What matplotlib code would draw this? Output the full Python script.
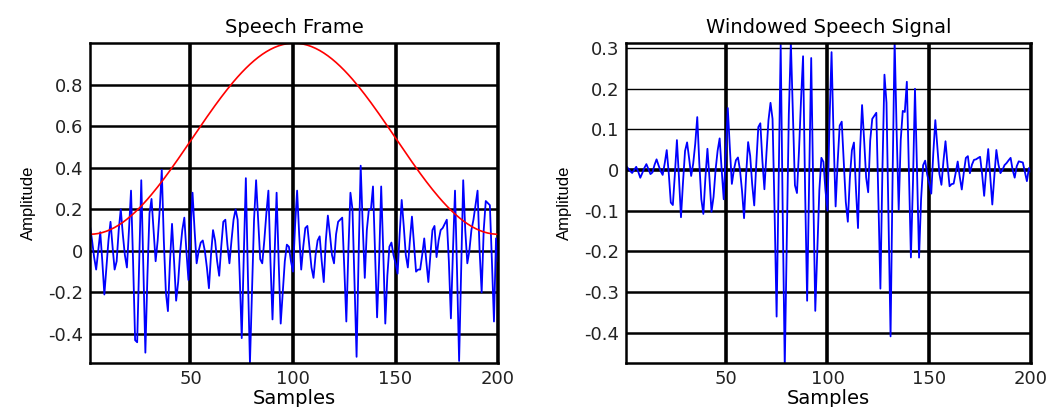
import numpy as np
import matplotlib
matplotlib.use('Agg')
import matplotlib.pyplot as plt

plt.rcParams['font.family'] = ['DejaVu Sans']

# speech frame samples (n = 1..200)
frame = [
    0.12, 0.05, -0.03, -0.09, 0.00, 0.09, -0.05, -0.21, -0.08, 0.05,
    0.14, 0.02, -0.09, -0.05, 0.10, 0.20, 0.08, -0.02, -0.08, 0.10,
    0.29, -0.05, -0.43, -0.44, -0.05, 0.34, -0.08, -0.49, -0.12, 0.18,
    0.25, 0.10, -0.05, 0.05, 0.20, 0.39, 0.05, -0.20, -0.29, -0.05,
    0.13, -0.05, -0.24, -0.15, 0.00, 0.10, 0.16, 0.00, -0.14, 0.08,
    0.28, 0.10, -0.06, 0.00, 0.04, 0.05, 0.00, -0.08, -0.18, -0.02,
    0.10, 0.05, -0.05, -0.12, 0.02, 0.14, 0.15, 0.03, -0.06, 0.05,
    0.15, 0.20, 0.15, -0.12, -0.42, -0.02, 0.35, -0.12, -0.54, -0.20,
    0.15, 0.34, 0.15, -0.04, -0.06, 0.05, 0.18, 0.29, -0.05, -0.33,
    -0.02, 0.28, -0.05, -0.35, -0.20, -0.05, 0.03, 0.02, -0.05, -0.10,
    0.12, 0.29, 0.08, -0.09, 0.02, 0.11, 0.12, 0.02, -0.08, -0.13,
    -0.02, 0.05, 0.07, -0.05, -0.15, 0.05, 0.17, 0.08, -0.02, -0.06,
    0.08, 0.14, 0.15, 0.16, -0.08, -0.34, 0.00, 0.28, 0.20, -0.15,
    -0.51, -0.02, 0.41, 0.12, -0.13, 0.10, 0.20, 0.20, 0.31, 0.00,
    -0.32, -0.05, 0.31, 0.00, -0.35, -0.12, 0.02, 0.04, -0.02, -0.06,
    -0.11, 0.08, 0.245, 0.12, -0.02, -0.08, 0.05, 0.165, 0.03, -0.10,
    -0.09, -0.09, -0.02, 0.06, -0.05, -0.15, -0.02, 0.10, 0.12, -0.03,
    0.05, 0.10, 0.11, 0.13, 0.15, -0.05, -0.325, 0.00, 0.29, -0.10,
    -0.53, -0.10, 0.34, 0.10, -0.06, 0.00, 0.10, 0.15, 0.22, 0.29,
    0.00, -0.20, 0.10, 0.24, 0.23, 0.22, -0.05, -0.34, 0.06, -0.05,
]
samples = np.arange(1, len(frame) + 1)
window = np.hamming(len(frame))          # red curve
windowed = np.array(frame) * window      # right panel

left_yticks = [-0.4, -0.2, 0, 0.2, 0.4, 0.6, 0.8]
left_ylabels = ['-0.4', '-0.2', '0', '0.2', '0.4', '0.6', '0.8']
right_yticks = [-0.4, -0.3, -0.2, -0.1, 0, 0.1, 0.2, 0.3]
right_ylabels = ['-0.4', '-0.3', '-0.2', '-0.1', '0', '0.1', '0.2', '0.3']
xticks = [50, 100, 150, 200]

fig = plt.figure(figsize=(10.49, 4.07), dpi=100)
ax1 = fig.add_axes([0.0858, 0.108, 0.389, 0.786])
ax2 = fig.add_axes([0.5968, 0.108, 0.386, 0.786])


def style(ax, yticks, ylabels, title):
    ax.set_xlim(1, 200)
    ax.set_xticks(xticks)
    ax.set_xticklabels([str(t) for t in xticks])
    ax.set_yticks(yticks)
    ax.set_yticklabels(ylabels)
    ax.tick_params(length=0, labelsize=13, colors='#222222', pad=5)
    ax.grid(axis='x', color='k', lw=2.6)
    ax.grid(axis='y', color='k', lw=1.8)
    ax.set_axisbelow(True)
    for s in ax.spines.values():
        s.set_linewidth(1.8)
    ax.set_title(title, fontsize=14, pad=7)
    ax.set_xlabel('Samples', fontsize=14, labelpad=1)
    ax.set_ylabel('Amplitude', fontsize=12, labelpad=9,
                  family=['Liberation Sans', 'DejaVu Sans'])


ax1.plot(samples, frame, color='#0000ff', lw=1.3)
ax1.plot(samples, window, color='#ff0000', lw=1.2)
ax1.set_ylim(-0.54, 1.0)
style(ax1, left_yticks, left_ylabels, 'Speech Frame')

ax2.plot(samples, windowed, color='#0000ff', lw=1.3)
ax2.set_ylim(-0.475, 0.312)
style(ax2, right_yticks, right_ylabels, 'Windowed Speech Signal')
for val, gl in zip(right_yticks, ax2.get_ygridlines()):
    if val == 0:
        gl.set_linewidth(2.6)
    elif val > 0:
        gl.set_linewidth(1.0)

fig.savefig('out.png', dpi=100)
